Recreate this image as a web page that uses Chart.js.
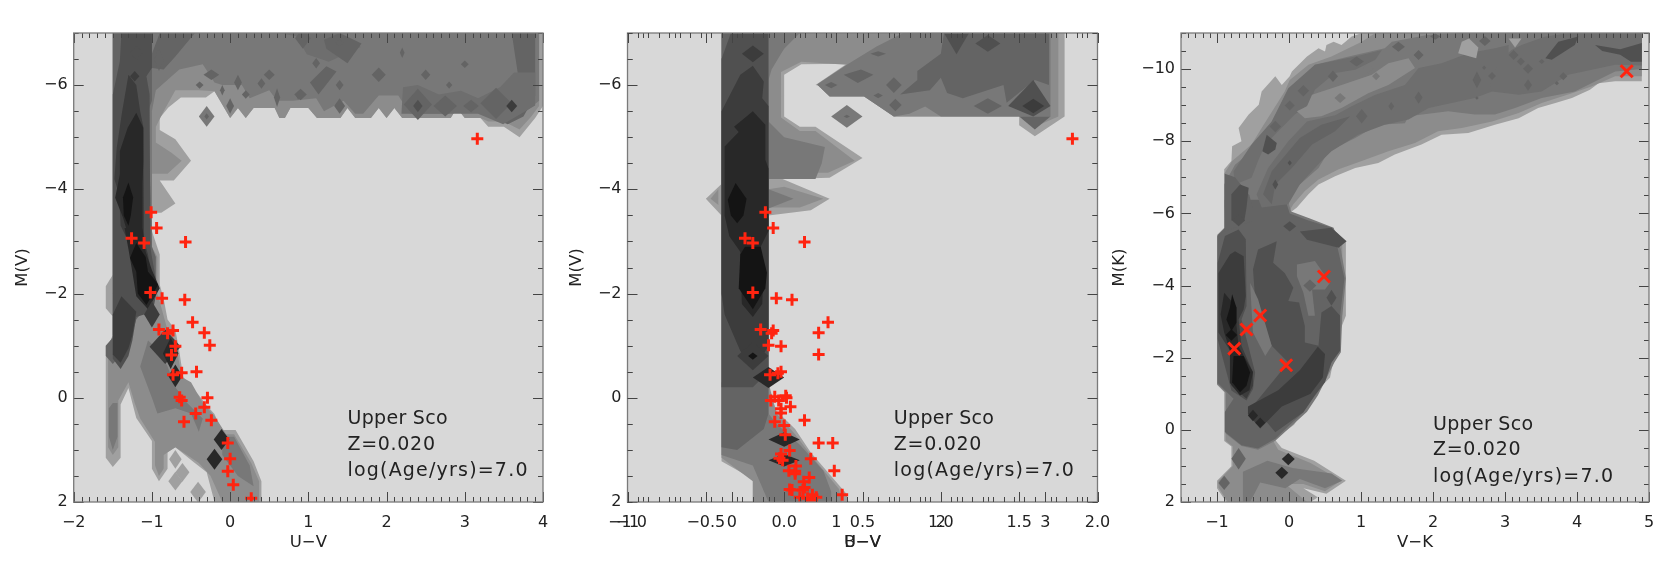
<!DOCTYPE html>
<html><head><meta charset="utf-8">
<style>html,body{margin:0;padding:0;background:#fff;overflow:hidden}
canvas{position:absolute;left:0;top:0;filter:blur(0.45px)}</style>
<script src="https://cdn.jsdelivr.net/npm/chart.js@4"></script>
</head><body>
<canvas id="c1" width="1661" height="569"></canvas>
<canvas id="c2" width="1661" height="569"></canvas>
<canvas id="c2b" width="1661" height="569"></canvas>
<canvas id="c3" width="1661" height="569"></canvas>
<script>
const levelGreys=['#d8d8d8','#b8b8b8','#a0a0a0','#8c8c8c','#787878','#646464','#505050','#3c3c3c','#282828','#141414','#6e6e6e'];
const noteLines=['Upper Sco','Z=0.020','log(Age/yrs)=7.0'];
const uvTicks=[-2,-1,0,1,2,3,4], uvLabels=['−2','−1','0','1','2','3','4'];
const bvTicks=[-1,-0.5,0,0.5,1,1.5,2], bvLabels=['−1.0','−0.5','0.0','0.5','1.0','1.5','2.0'];
const uv2Ticks=[-1,0,1,2,3], uv2Labels=['−1','0','1','2','3'];
const vkTicks=[-1,0,1,2,3,4,5], vkLabels=['−1','0','1','2','3','4','5'];
const mvTicks=[-6,-4,-2,0,2], mvLabels=['−6','−4','−2','0','2'];
const mkTicks=[-10,-8,-6,-4,-2,0,2], mkLabels=['−10','−8','−6','−4','−2','0','2'];

const uvStars=[[3.16,-4.97],[-1.01,-3.56],[-0.94,-3.26],[-1.26,-3.06],[-1.1,-2.97],[-0.57,-2.99],[-1.02,-2.02],[-0.87,-1.91],[-0.58,-1.88],[-0.48,-1.45],[-0.91,-1.31],[-0.33,-1.25],[-0.8,-1.24],[-0.73,-1.29],[-0.26,-1.01],[-0.7,-0.99],[-0.75,-0.82],[-0.43,-0.5],[-0.73,-0.44],[-0.62,-0.48],[-0.645,-0.01],[-0.62,0.05],[-0.29,0],[-0.33,0.18],[-0.44,0.3],[-0.24,0.43],[-0.59,0.46],[-0.03,0.87],[0,1.17],[-0.03,1.41],[0.04,1.67],[0.27,1.93]];
const bvStars=[[1.84,-4.97],[-0.12,-3.56],[-0.07,-3.26],[-0.25,-3.06],[-0.2,-2.97],[0.13,-2.99],[-0.2,-2.02],[-0.05,-1.91],[0.05,-1.88],[0.28,-1.45],[-0.15,-1.31],[0.22,-1.25],[-0.08,-1.24],[-0.07,-1.29],[-0.1,-1.01],[-0.02,-0.99],[0.22,-0.83],[-0.02,-0.5],[-0.09,-0.44],[-0.04,-0.47],[-0.06,-0.02],[-0.085,0.05],[0.01,-0.04],[0.015,0],[-0.035,0.05],[0.04,0.17],[-0.02,0.21],[-0.02,0.29],[-0.06,0.46],[0.13,0.43],[0,0.53],[0.007,0.71],[0.22,0.87],[0.31,0.87],[0.035,1.01],[-0.02,1.08],[-0.03,1.16],[-0.01,1.2],[0.17,1.17],[0.075,1.31],[0.03,1.4],[0.07,1.41],[0.07,1.46],[0.32,1.4],[0.16,1.53],[0.125,1.61],[0.13,1.72],[0.035,1.76],[0.05,1.77],[0.12,1.77],[0.18,1.86],[0.37,1.86],[0.1,1.91],[0.15,1.93],[0.205,1.91],[0.17,1.97]];
const vkStars=[[4.69,-9.94],[0.485,-4.25],[-0.4,-3.17],[-0.59,-2.78],[-0.76,-2.25],[-0.04,-1.79]];

const uvShapes=[
[2,[[-1.5,-7],[4,-7],[4,-5.6],[3.9,-5.37],[3.7,-5],[3.5,-5.2],[3.3,-5.2],[3.2,-5.37],[3,-5.37],[2.9,-5.56],[2.82,-5.37],[2.2,-5.37],[2.1,-5.56],[2,-5.37],[1.9,-5.56],[1.8,-5.37],[1.6,-5.37],[1.5,-5.56],[1.41,-5.37],[1.11,-5.37],[1,-5.56],[0.77,-5.56],[0.7,-5.37],[0.63,-5.37],[0.57,-5.56],[0.3,-5.56],[0.2,-5.37],[0.1,-5.56],[0,-5.37],[-0.2,-5.88],[-0.31,-5.76],[-0.63,-5.76],[-0.79,-5.57],[-0.9,-5.37],[-0.9,-5.14],[-0.7,-4.96],[-0.5,-4.55],[-0.72,-4.17],[-0.9,-4.17],[-0.7,-3.73],[-0.88,-3.55],[-1,-3.55],[-1,-3.2],[-0.9,-2.75],[-0.9,-2.17],[-0.85,-1.9],[-0.8,-1.5],[-0.7,-1.3],[-0.65,-0.9],[-0.6,-0.4],[-0.5,-0.2],[-0.41,-0.07],[-0.3,0.15],[-0.2,0.31],[-0.11,0.62],[0.07,0.62],[0.3,1.22],[0.4,1.6],[0.4,2],[-0.2,2],[-0.3,1.43],[-0.48,1.22],[-0.7,0.95],[-0.8,1.04],[-0.8,1.36],[-0.91,1.6],[-1,1.36],[-1,0.83],[-1.2,0.39],[-1.3,-0.19],[-1.4,0.13],[-1.4,1.15],[-1.5,1.33],[-1.59,1.15],[-1.59,-1],[-1.5,-1.15],[-1.5,-1.56],[-1.59,-1.72],[-1.59,-2.14],[-1.5,-2.36]]],
[3,[[-1.5,-7],[3.95,-7],[3.95,-5.6],[3.85,-5.4],[3.7,-5.15],[3.5,-5.3],[3.3,-5.3],[3.2,-5.37],[3,-5.37],[2.9,-5.56],[2.82,-5.37],[2.2,-5.37],[2.1,-5.56],[2,-5.37],[1.9,-5.56],[1.8,-5.37],[1.6,-5.37],[1.5,-5.56],[1.41,-5.37],[1.11,-5.37],[1,-5.56],[0.77,-5.56],[0.7,-5.37],[0.63,-5.37],[0.57,-5.56],[0.3,-5.56],[0.2,-5.37],[0.1,-5.56],[0,-5.37],[-0.2,-5.88],[-0.4,-5.9],[-0.7,-5.9],[-0.85,-5.5],[-0.95,-5.2],[-0.95,-4.9],[-0.75,-4.7],[-0.62,-4.55],[-0.8,-4.3],[-1,-4.3],[-1,-2.9],[-0.93,-2.7],[-0.93,-2],[-0.8,-1.3],[-0.7,-1.1],[-0.62,-0.4],[-0.5,-0.3],[-0.35,0.1],[-0.2,0.35],[-0.05,0.7],[0.05,0.7],[0.27,1.25],[0.37,1.6],[0.37,2],[-0.1,2],[-0.25,1.5],[-0.4,1.25],[-0.55,1.1],[-0.7,0.95],[-0.85,1.1],[-0.85,1.36],[-0.91,1.5],[-0.96,1.3],[-0.96,0.85],[-1.15,0.4],[-1.22,0.1],[-1.3,-0.3],[-1.43,0.05],[-1.43,0.95],[-1.5,1.1],[-1.56,0.95],[-1.56,-1],[-1.5,-1.2]]],
[4,[[-1.5,-7],[3.95,-7],[3.95,-5.7],[3.7,-5.4],[3.3,-5.45],[3.2,-5.45],[3,-5.7],[2.8,-5.45],[2.3,-5.45],[2.15,-5.8],[1.9,-5.8],[1.7,-5.45],[1.6,-5.45],[1.45,-5.7],[1.2,-5.5],[1.1,-5.75],[0.8,-5.7],[0.6,-5.7],[0.5,-5.9],[0.25,-5.75],[0.15,-6],[-0.1,-6],[-0.2,-6.05],[-0.35,-6.4],[-0.65,-6.3],[-0.95,-5.9],[-1,-5.5],[-1,-2.9],[-0.97,-2.3],[-1,-2],[-1.5,-1.2]]],
[4,[[-0.9,-0.9],[-0.8,-0.6],[-0.7,-0.2],[-0.55,0.1],[-0.35,0.4],[-0.4,0.65],[-0.5,0.3],[-0.7,0.2],[-0.93,0.3],[-1,0],[-1.15,-0.6],[-1.05,-1.1]]],
[4,[[-1.5,0.1],[-1.44,0.1],[-1.44,0.75],[-1.5,1],[-1.55,0.75],[-1.55,0.2]]],
[4,[[-0.1,0.75],[0.05,0.75],[0.25,1.3],[0.3,1.7],[0.1,1.5],[-0.1,1.1]]],
[5,[[-1.5,-7],[-1,-7],[-1,-5.7],[-1.05,-5.5],[-1,-2.9],[-0.95,-2.7],[-0.95,-2.3],[-1.05,-2],[-1.1,-1.7],[-1.2,-1.5],[-1.3,-1],[-1.5,-0.65],[-1.59,-0.8],[-1.59,-1],[-1.5,-1.15]]],
[5,[[-0.7,-6.55],[-0.45,-7],[-0.9,-7],[-1,-6.6],[-1,-6.33],[-0.85,-6.3]]],
[5,[[3.5,-5.6],[3.7,-6],[3.65,-6.5],[3.6,-7],[3.9,-7],[3.9,-5.8],[3.75,-5.4],[3.55,-5.25],[3.3,-5.4]]],
[10,[[2.19,-5.45],[2.21,-5.96],[2.4,-6],[2.67,-5.82],[2.95,-5.89],[3.17,-5.75],[3.45,-5.96],[3.63,-6.24],[3.9,-6.24],[3.9,-5.61],[3.49,-5.25],[3.17,-5.45]]],
[10,[[0.62,-7],[1.39,-7],[1.67,-6.73],[1.26,-6.45],[0.98,-6.59],[0.85,-6.94]]],
[5,[[1.2,-6.87],[1.4,-7],[1.68,-6.8],[1.5,-6.42],[1.23,-6.7]]],
[5,[[1.02,-6.05],[1.23,-6.36],[1.36,-6.26],[1.13,-5.82]]],
[6,[[-1.39,-7],[-1,-7],[-1,-6.33],[-1.07,-6.17],[-1.03,-5.82],[-1.02,-2.9],[-1,-2.7],[-0.93,-2.1],[-0.97,-1.8],[-1.05,-1.55],[-1.1,-1.6],[-1.2,-1.55],[-1.25,-1.1],[-1.3,-0.8],[-1.4,-0.55],[-1.5,-0.75],[-1.5,-5.82],[-1.41,-6.46]]],
[7,[[-1.3,-6.2],[-1.2,-6],[-1.15,-5.5],[-1.11,-5.2],[-1.1,-3],[-1.05,-2.75],[-1,-2.3],[-1.05,-2],[-1.07,-1.75],[-1.2,-2],[-1.25,-2.7],[-1.3,-3],[-1.4,-3.3],[-1.42,-3.9],[-1.48,-4.2],[-1.45,-4.8],[-1.38,-5.5]]],
[7,[[-1.39,-1.95],[-1.2,-1.65],[-1.25,-1.2],[-1.3,-0.95],[-1.4,-0.67],[-1.5,-0.83],[-1.5,-1.6]]],
[8,[[-1.2,-5.47],[-1.11,-5.18],[-1.11,-4.54],[-1.12,-4.1],[-1.12,-3.26],[-1.33,-3.26],[-1.37,-3.46],[-1.47,-3.84],[-1.41,-4.29],[-1.41,-4.73],[-1.31,-5.18]]],
[8,[[-1.35,-3.26],[-1.12,-3.26],[-1.08,-2.8],[-1,-2.45],[-0.9,-2.1],[-1.05,-1.7],[-1.2,-1.95],[-1.26,-2.5],[-1.3,-2.85]]],
[9,[[-1.3,-4.13],[-1.24,-3.85],[-1.27,-3.5],[-1.3,-3.3],[-1.36,-3.5],[-1.37,-3.85]]],
[9,[[-1.2,-2.97],[-1.08,-2.7],[-1.05,-2.42],[-1,-2.33],[-0.92,-2.17],[-1.07,-1.78],[-1.18,-2],[-1.2,-2.42],[-1.28,-2.68]]]
];
const uvDiamonds=[[2,-0.41,1.81,0.1,0.2],[2,-0.7,1.18,0.08,0.18],[2,-0.61,1.43,0.09,0.18],[2,-0.7,1.6,0.09,0.18],[4,-0.3,-5.4,0.1,0.2],[5,-0.3,-5.4,0.03,0.06],[7,-0.83,-0.98,0.2,0.33],[8,-0.76,-0.85,0.1,0.3],[8,-0.7,-0.42,0.09,0.22],[8,-0.11,0.8,0.1,0.2],[8,-0.2,1.18,0.1,0.2],[7,-1,-1.6,0.1,0.25],[6,-1.2,-6.62,0.08,0.14],[7,-1.22,-6.17,0.06,0.1],[5,-0.91,-6.49,0.06,0.22],[5,-0.24,-6.2,0.1,0.1],[5,-0.39,-6,0.05,0.07],[5,0.1,-6.05,0.05,0.15],[5,-0.1,-5.9,0.03,0.1],[5,0,-5.6,0.05,0.15],[5,0.2,-5.82,0.05,0.08],[5,0.4,-6.03,0.05,0.1],[5,0.5,-6.2,0.07,0.1],[5,0.6,-5.76,0.04,0.18],[5,0.87,-5.8,0.03,0.08],[5,1.4,-6.81,0.05,0.07],[5,1.1,-6.42,0.05,0.1],[5,0.9,-5.82,0.08,0.11],[5,1.4,-6,0.05,0.1],[5,1.4,-5.6,0.07,0.15],[5,1.9,-6.2,0.09,0.14],[5,2.2,-6.62,0.03,0.1],[5,2.5,-6.2,0.06,0.1],[5,3,-6.4,0.05,0.07],[5,2.8,-6,0.04,0.07],[5,2.4,-5.63,0.18,0.3],[6,2.4,-5.6,0.06,0.12],[5,2.75,-5.6,0.15,0.2],[5,3.08,-5.6,0.1,0.12],[5,3.4,-5.65,0.2,0.3],[7,3.6,-5.6,0.07,0.12],[5,0.93,-6.9,0.1,0.2]];

const bvShapes=[
[2,[[-0.4,-7],[1.79,-7],[1.79,-5.4],[1.6,-5.02],[1.5,-5.23],[1.5,-5.4],[0.7,-5.4],[0.51,-5.8],[0.2,-6],[0.4,-6.41],[0.11,-6.4],[0,-6.2],[0,-5.4],[0.1,-5.2],[0.2,-5.2],[0.5,-4.6],[0.29,-4.22],[-0.01,-4.2],[0.29,-3.82],[0.17,-3.6],[-0.1,-3.5],[-0.1,-0.6],[-0.1,-0.2],[-0.05,0.25],[0.07,0.6],[0.17,1.05],[0.4,1.85],[0.41,2],[-0.2,2],[-0.2,1.56],[-0.4,1.22],[-0.4,-3.5],[-0.5,-3.82],[-0.4,-4.1]]],
[3,[[-0.1,-7],[1.75,-7],[1.75,-5.4],[1.6,-5.2],[1.52,-5.4],[0.7,-5.4],[0.51,-5.78],[0.29,-5.78],[0.21,-6.01],[0.4,-6.39],[0.11,-6.45],[-0.02,-6.25],[-0.02,-5.38],[0.1,-5.12],[0.2,-5.12],[0.45,-4.55],[0.28,-4.32],[-0.02,-4.32],[-0.1,-4.3]]],
[3,[[-0.1,-4],[0,-4.05],[0.25,-3.82],[0.1,-3.65],[-0.1,-3.65]]],
[3,[[-0.42,-4],[-0.47,-3.82],[-0.42,-3.7]]],
[3,[[-0.4,-7],[-0.1,-7],[-0.1,-0.3],[-0.05,0.3],[0.07,0.7],[0.17,1.1],[0.35,1.75],[0.37,2],[-0.2,2],[-0.2,1.6],[-0.4,1.15]]],
[4,[[0.21,-6.01],[0.4,-6.39],[0.59,-6.74],[0.76,-7],[1.7,-7],[1.7,-5.4],[1,-5.4],[0.9,-5.59],[0.8,-5.45],[0.7,-5.4],[0.51,-5.78],[0.29,-5.78]]],
[4,[[-0.1,-7],[0.1,-7],[0,-6.7],[-0.02,-6.6],[-0.08,-6.3],[-0.1,-6.1]]],
[4,[[-0.1,-5.3],[0,-5],[0.26,-4.81],[0.24,-4.5],[0.2,-4.2],[-0.1,-4.2]]],
[4,[[-0.1,-4],[0.06,-3.82],[-0.1,-3.63]]],
[4,[[-0.4,-0.3],[-0.1,-0.3],[-0.1,0.3],[-0.05,0.5],[0.1,0.9],[0.25,1.4],[0.3,1.8],[0.3,2],[-0.1,2],[-0.2,1.3],[-0.4,1.1]]],
[5,[[-0.4,-7],[-0.1,-7],[-0.1,-0.5],[-0.1,-0.2],[-0.1,0.3],[-0.13,0.6],[-0.3,1],[-0.4,0.95]]],
[5,[[0.74,-5.82],[0.85,-6.1],[0.85,-6.27],[1,-6.6],[1.02,-7],[1.69,-7],[1.69,-6],[1.6,-6.1],[1.42,-5.66],[1.4,-6],[1.14,-5.75],[1.04,-5.85],[1,-6.14],[0.93,-5.9]]],
[5,[[0.38,-6.2],[0.49,-6.3],[0.57,-6.2],[0.47,-6.04]]],
[5,[[1.5,-5.4],[1.6,-5.15],[1.7,-5.4]]],
[6,[[-0.34,-7],[-0.1,-7],[-0.1,-0.5],[-0.2,-0.2],[-0.4,-0.2],[-0.4,-6.5]]],
[6,[[1.02,-7],[1.18,-7],[1.1,-6.59]]],
[6,[[1.43,-5.6],[1.59,-6.1],[1.7,-5.6],[1.59,-5.4]]],
[7,[[-0.4,-5.5],[-0.28,-6.2],[-0.2,-6.37],[-0.13,-6.07],[-0.14,-5.75],[-0.1,-5.6],[-0.1,-1],[-0.15,-0.75],[-0.2,-0.65],[-0.28,-0.9],[-0.38,-1.6],[-0.4,-2]]],
[8,[[-0.38,-4.82],[-0.29,-5.1],[-0.32,-5.2],[-0.2,-5.5],[-0.12,-5.24],[-0.12,-4.57],[-0.1,-4.4],[-0.1,-3.2],[-0.15,-2.9],[-0.13,-2.5],[-0.14,-1.8],[-0.2,-1.55],[-0.27,-1.8],[-0.28,-2.8],[-0.35,-3.1],[-0.38,-3.5]]],
[9,[[-0.31,-4.12],[-0.24,-3.82],[-0.26,-3.5],[-0.3,-3.35],[-0.34,-3.5],[-0.36,-3.8]]],
[9,[[-0.28,-2.75],[-0.25,-2.9],[-0.15,-2.9],[-0.11,-2.4],[-0.12,-2.1],[-0.2,-1.7],[-0.29,-2.1]]]
];
const bvDiamonds=[[7,-0.2,-0.8,0.1,0.27],[9,-0.2,-0.8,0.03,0.07],[8,-0.1,-0.39,0.1,0.2],[8,0,0.8,0.1,0.14],[8,0,1.2,0.1,0.12],[7,-0.2,-6.6,0.07,0.16],[5,0.7,-6,0.05,0.15],[5,0.3,-6,0.04,0.06],[5,0.6,-6.6,0.05,0.05],[5,0.71,-5.62,0.04,0.12],[5,0.6,-5.8,0.03,0.05],[4,0.4,-5.4,0.1,0.22],[5,0.4,-5.4,0.02,0.03],[6,1.3,-6.8,0.08,0.16],[5,1.3,-5.6,0.09,0.15],[7,1.59,-5.6,0.07,0.14]];

const vkShapes=[
[2,[[-0.9,-6.16],[-0.9,-7.22],[-0.8,-7.45],[-0.79,-7.86],[-0.66,-8],[-0.7,-8.37],[-0.56,-8.74],[-0.42,-9.01],[-0.38,-9.38],[-0.19,-9.8],[-0.1,-9.56],[0.01,-9.8],[0.04,-9.93],[0.25,-10.35],[0.41,-10.58],[0.5,-10.49],[0.52,-10.67],[0.62,-10.76],[0.73,-10.67],[0.87,-10.9],[1.01,-11],[4.9,-11],[4.9,-9.66],[4.53,-9.66],[4.3,-9.61],[4.18,-9.43],[3.93,-9.2],[3.7,-9.06],[3.46,-8.92],[3.19,-8.64],[2.86,-8.46],[2.49,-8.23],[2.12,-8.18],[1.84,-7.91],[1.47,-7.63],[1.24,-7.4],[0.92,-7.26],[0.64,-7.03],[0.41,-6.8],[0.27,-6.53],[0.11,-6.16],[0,-6],[0.35,-5.63],[0.6,-5.6],[0.79,-5.2],[0.79,-3.16],[0.69,-2.66],[0.57,-1.45],[0.35,-1],[0.07,-0.14],[-0.2,0.26],[-0.1,0.5],[0.35,0.86],[0.79,1.41],[0.52,1.77],[0.2,1.62],[0.4,1.87],[0.3,2],[-0.87,2],[-1,1.62],[-1,1.41],[-0.8,1.01],[-0.8,0.46],[-0.9,0.31],[-0.9,-1.05],[-1,-1.25],[-1,-5.4],[-0.9,-5.6]]],
[3,[[-0.9,-6.16],[-0.9,-7.1],[-0.79,-7.45],[-0.52,-7.91],[-0.38,-8.37],[-0.06,-9.38],[0.01,-9.7],[0.27,-10.12],[0.59,-10.35],[1.01,-10.76],[1.2,-11],[4.9,-11],[4.9,-9.8],[4.53,-9.8],[4.2,-9.52],[3.93,-9.33],[3.51,-9.06],[3.19,-8.78],[2.82,-8.55],[2.4,-8.37],[2.07,-8.28],[1.75,-7.95],[1.38,-7.72],[1.01,-7.45],[0.69,-7.22],[0.41,-6.94],[0.22,-6.62],[0.06,-6.25],[-0.03,-5.95],[0.3,-5.6],[0.57,-5.55],[0.74,-5.2],[0.74,-3.2],[0.64,-2.7],[0.52,-1.5],[0.3,-1.05],[0.02,-0.2],[-0.25,0.2],[-0.15,0.55],[0.3,0.92],[0.72,1.41],[0.5,1.7],[0.2,1.5],[-0.05,1.5],[0.25,2],[-0.85,2],[-0.98,1.6],[-0.98,1.41],[-0.78,1],[-0.78,0.46],[-0.88,0.3],[-0.88,-1.05],[-0.98,-1.25],[-0.98,-5.4],[-0.88,-5.55]]],
[4,[[-0.9,-6.16],[-0.9,-6.8],[-0.75,-7.35],[-0.52,-7.72],[-0.33,-8.18],[-0.19,-8.74],[0.04,-9.47],[0.36,-10.12],[0.92,-10.39],[1.33,-10.58],[1.43,-10.76],[1.94,-10.95],[2.4,-11],[4.9,-11],[4.9,-10],[4.53,-9.93],[3.97,-9.38],[3.51,-9.2],[3.14,-8.92],[2.86,-8.74],[2.58,-8.74],[2.21,-8.83],[1.66,-8.69],[1.61,-8.5],[1.24,-8.46],[0.92,-8.09],[0.55,-7.72],[0.41,-7.26],[0.15,-6.8],[-0.19,-6.16]]],
[4,[[-0.9,-6.38],[-0.9,-5.55],[-1,-5.36],[-1,-1.27],[-0.88,-1.03],[-0.88,0.1],[-0.66,0.45],[-0.43,0.55],[-0.19,0.3],[0.03,-0.1],[0.25,-0.5],[0.4,-0.95],[0.63,-1.87],[0.72,-2.15],[0.74,-3.16],[0.79,-4.2],[0.72,-5],[0.62,-5.6],[0.3,-5.85],[0.03,-6.05],[-0.02,-6.38]]],
[4,[[-0.64,1.16],[-0.3,0.86],[0.05,1.06],[0.59,1.21],[0.74,1.41],[0.5,1.62],[0.15,1.36],[-0.05,1.62],[-0.4,1.46],[-0.54,2],[-0.64,2]]],
[5,[[-0.99,-5.4],[-0.89,-5.6],[-0.89,-6.38],[-0.05,-6.38],[0.01,-6],[0.27,-5.8],[0.6,-5.6],[0.68,-5],[0.77,-4.2],[0.71,-3.16],[0.68,-2.15],[0.59,-1.87],[0.34,-0.95],[0.2,-0.49],[-0.01,-0.1],[-0.19,0.25],[-0.43,0.52],[-0.66,0.43],[-0.89,0.06],[-0.89,-0.5],[-0.77,-0.86],[-0.99,-1.3]]],
[10,[[-0.45,-6.53],[-0.29,-7.26],[-0.01,-8],[0.25,-8.55],[0.64,-8.72],[0.87,-8.97],[1.2,-9.29],[1.61,-9.56],[1.8,-10.03],[2.12,-10.16],[2.49,-10.44],[2.86,-10.58],[3.05,-10.67],[3.05,-10.12],[2.82,-9.38],[2.58,-9.2],[2.26,-9.06],[1.94,-8.92],[1.66,-8.6],[1.33,-8.46],[0.96,-8.18],[0.59,-7.72],[0.45,-7.45],[0.15,-6.8],[-0.01,-6.25],[-0.38,-6.16]]],
[10,[[2.79,-9.56],[2.91,-10.21],[3.09,-10.53],[3.23,-10.67],[3.56,-10.9],[3.9,-11],[4.9,-11],[4.9,-10.1],[4.53,-10.12],[3.88,-9.84],[3.51,-9.38],[3.19,-9.29],[2.82,-9.38]]],
[10,[[-0.77,-7.17],[-0.52,-7.91],[-0.24,-8.55],[-0.01,-9.47],[0.36,-10.12],[0.92,-10.35],[1.29,-10.53],[1.2,-10.26],[0.92,-9.98],[0.64,-9.89],[0.36,-9.43],[0.27,-9.01],[0.08,-8.74],[-0.15,-8.28],[-0.33,-7.91],[-0.43,-7.45],[-0.52,-6.99],[-0.75,-6.8]]],
[5,[[-0.89,-7.1],[-0.75,-7],[-0.55,-6.5],[-0.5,-6.1],[-0.5,-5.8],[-0.89,-5.5]]],
[3,[[0.32,-9.29],[0.73,-9.56],[1.15,-9.84],[1.38,-10.16],[1.66,-10.3],[1.75,-10.03],[1.38,-9.56],[1.1,-9.33],[0.73,-8.92],[0.45,-8.69],[0.22,-8.64],[0.11,-8.83],[0.25,-8.97]]],
[2,[[2.35,-10.44],[2.4,-10.76],[2.5,-10.85],[2.63,-10.6],[2.6,-10.3]]],
[2,[[3.05,-10.85],[3.23,-10.85],[3.14,-10.6]]],
[5,[[-0.24,-7.17],[0.15,-8.09],[0.45,-8.46],[0.85,-8.69],[0.64,-8.28],[0.32,-7.91],[0.04,-7.26],[-0.19,-6.8],[-0.24,-6.25],[-0.36,-6.53]]],
[6,[[-0.8,-6.16],[-0.8,-6.53],[-0.68,-6.8],[-0.56,-6.71],[-0.59,-6.16],[-0.62,-5.8],[-0.8,-5.8]]],
[6,[[3.56,-10.3],[3.74,-10.76],[4.02,-10.9],[3.97,-10.67],[3.65,-10.26]]],
[6,[[4.25,-10.67],[4.6,-10.55],[4.9,-10.72],[4.9,-10.2],[4.75,-10.2],[4.6,-10.4],[4.35,-10.5]]],
[6,[[-0.37,-7.72],[-0.31,-8.18],[-0.17,-7.95],[-0.19,-7.77],[-0.29,-7.63]]],
[6,[[0.15,-5.5],[0.59,-5.6],[0.8,-5.23],[0.69,-5.05],[0.25,-5.27]]],
[6,[[-0.5,-4.45],[-0.43,-5],[-0.17,-5.23],[-0.22,-4.63],[-0.06,-4.35],[0.06,-3.94],[-0.01,-3.57],[0.14,-3.53],[0.22,-2.88],[0.22,-2.42],[0.41,-2.33],[0.45,-3.25],[0.59,-3.43],[0.71,-3.16],[0.71,-2.19],[0.59,-1.87],[0.5,-1.32],[0.36,-0.95],[0.2,-0.49],[-0.19,0.07],[-0.5,-0.67],[-0.01,-1.87],[-0.24,-2.33],[-0.47,-3.62]]],
[6,[[-0.99,-4.63],[-0.89,-5.37],[-0.7,-5.55],[-0.6,-5.28],[-0.59,-3.43],[-0.66,-3.06],[-0.47,-1.59],[-0.5,-1.13],[-0.59,-0.81],[-0.8,-1.09],[-0.99,-2.51]]],
[4,[[0.11,-4.58],[0.36,-4.68],[0.57,-4.08],[0.5,-3.89],[0.32,-3.89],[0.36,-3.16],[0.27,-3.16],[0.2,-3.8],[0.11,-4.26]]],
[4,[[-0.54,-4.08],[-0.43,-3.62],[-0.24,-2.33],[-0.33,-2.05],[-0.5,-2.7],[-0.52,-3.34]]],
[7,[[-0.98,-4.35],[-0.82,-4.86],[-0.75,-4.95],[-0.63,-4.81],[-0.6,-3.71],[-0.63,-3.34],[-0.7,-3.06],[-0.66,-2.33],[-0.5,-1.59],[-0.5,-1.22],[-0.59,-0.86],[-0.8,-1.22],[-0.8,-2.14],[-0.98,-2.7]]],
[7,[[-0.57,-0.65],[-0.15,-1.1],[0.15,-1.65],[0.4,-2.3],[0.5,-2.1],[0.47,-1.45],[0.3,-1],[-0.1,-0.65],[-0.4,-0.04],[-0.57,-0.44]]],
[8,[[-0.9,-3.8],[-0.73,-3.4],[-0.73,-2.9],[-0.7,-2.3],[-0.5,-1.6],[-0.55,-1.1],[-0.68,-0.95],[-0.82,-1.3],[-0.82,-2.2],[-0.9,-2.7],[-0.95,-3.2]]],
[9,[[-0.79,-3.76],[-0.73,-3.39],[-0.73,-2.97],[-0.8,-2.74],[-0.87,-3.06],[-0.82,-3.39]]],
[9,[[-0.77,-2.05],[-0.63,-2.05],[-0.54,-1.59],[-0.59,-1.22],[-0.68,-1.04],[-0.79,-1.32]]]
];
const vkDiamonds=[[5,1.52,-10.62,0.09,0.14],[5,0.94,-10.21,0.1,0.14],[5,0.61,-9.8,0.07,0.16],[5,0.2,-9.4,0.08,0.16],[5,0.01,-8.99,0.07,0.14],[5,-0.19,-8.41,0.08,0.16],[5,1.8,-10.39,0.07,0.14],[4,1.1,-10.02,0.07,0.14],[4,1.21,-9.8,0.055,0.11],[4,0.71,-9.2,0.08,0.14],[5,1.01,-8.69,0.08,0.2],[5,1.8,-9.21,0.055,0.17],[5,1.42,-8.97,0.04,0.12],[5,2.61,-9.7,0.06,0.23],[5,2.82,-9.81,0.055,0.11],[5,2.71,-10.04,0.03,0.06],[5,3.32,-10.01,0.07,0.14],[5,3.32,-9.56,0.055,0.16],[5,3.51,-10.21,0.04,0.07],[5,3.72,-9.61,0.03,0.06],[5,3.81,-9.8,0.055,0.11],[5,3.12,-10.39,0.07,0.14],[5,3.22,-10.21,0.055,0.11],[6,-0.19,-6.8,0.04,0.14],[6,0.01,-7.4,0.03,0.07],[5,2.61,-9.2,0.025,0.05],[5,2.03,-10.9,0.07,0.09],[5,2.72,-10.78,0.08,0.14],[8,-0.01,0.81,0.09,0.17],[8,-0.1,1.19,0.09,0.17],[8,-0.5,-0.4,0.07,0.16],[8,-0.4,-0.2,0.07,0.14],[5,-0.7,0.8,0.1,0.3],[5,-0.9,1.47,0.08,0.2],[6,0.01,-5.64,0.09,0.14],[6,-0.7,-5.8,0.09,0.16],[6,0.59,-3.66,0.07,0.22],[5,0.29,-4,0.09,0.17],[9,-0.8,-2.63,0.08,0.16]];

const FONT='"DejaVu Sans"';
const plotTop=33, plotBottom=502, boxBottom=552.9, noteSpacing=['0.3px','0.7px','1.2px'];

const frame={id:'frame',
  beforeDatasetsDraw(ch){const o=ch.options.plugins.frame,a=ch.chartArea,c=ch.ctx;
    if(o.bg){c.save();c.fillStyle=levelGreys[0];c.fillRect(a.left,a.top,a.width,a.height);c.restore();}},
  afterDatasetsDraw(ch){const o=ch.options.plugins.frame,a=ch.chartArea,c=ch.ctx,X=ch.scales.x,Y=ch.scales.y;
    c.save();c.strokeStyle='#444';c.lineWidth=1;
    const tick=(v,len,hor)=>{c.beginPath();
      if(hor){const p=Math.round(X.getPixelForValue(v))+.5;c.moveTo(p,a.top);c.lineTo(p,a.top+len);c.moveTo(p,a.bottom);c.lineTo(p,a.bottom-len);}
      else{const p=Math.round(Y.getPixelForValue(v))+.5;c.moveTo(a.left,p);c.lineTo(a.left+len,p);c.moveTo(a.right,p);c.lineTo(a.right-len,p);}
      c.stroke();};
    for(const v of o.xMinor)tick(v,5,true);
    for(const v of o.xMajor)tick(v,10,true);
    for(const v of o.yMinor)tick(v,5,false);
    for(const v of o.yMajor)tick(v,10,false);
    if(o.bg){c.strokeStyle='#7a7a7a';c.lineWidth=1.3;c.strokeRect(a.left,a.top,a.width,a.height);
      c.fillStyle='#222';c.font='19px '+FONT;c.textBaseline='alphabetic';
      o.noteYs.forEach((y,i)=>{if('letterSpacing' in c)c.letterSpacing=noteSpacing[i];c.fillText(noteLines[i],X.getPixelForValue(o.noteX),Y.getPixelForValue(y));});}
    c.restore();}
};
Chart.register(frame);

function seq(a,b,s){const r=[];for(let i=Math.round(a/s);i*s<=b+1e-9;i++)r.push(+(i*s).toFixed(3));return r;}
function diamondPts(d){const [,x,y,rx,ry]=d;return [[x-rx,y],[x,y-ry],[x+rx,y],[x,y+ry]];}
function polyDs(level,pts){const data=pts.concat([pts[0]]).map(p=>({x:p[0],y:p[1]}));
  return {data,showLine:true,fill:'shape',borderWidth:0,borderColor:'transparent',backgroundColor:levelGreys[level],pointRadius:0,tension:0};}

function panel(id,o){
  const painted=o.shapes.map(s=>polyDs(s[0],s[1])).concat(o.diamonds.map(d=>polyDs(d[0],diamondPts(d))));
  const marks=o.stars?[{data:o.stars.map(p=>({x:p[0],y:p[1]})),showLine:false,pointStyle:o.style,pointRadius:o.radius,pointBorderWidth:3,pointBorderColor:'#ff2410',pointBackgroundColor:'#ff2410'}]:[];
  const datasets=marks.concat(painted.reverse());
  const boxL=o.titleCx-9.9;
  return new Chart(document.getElementById(id),{type:'scatter',data:{datasets},
   options:{responsive:false,animation:false,events:[],
    layout:{padding:{left:boxL,right:1661-o.right,top:plotTop,bottom:569-boxBottom}},
    plugins:{legend:{display:false},tooltip:{enabled:false},
      frame:{bg:o.bg,xMajor:o.xTicks,xMinor:seq(o.xMin,o.xMax,o.xStep),yMajor:o.yTicks,yMinor:seq(o.yMin,o.yMax,0.5),noteX:o.noteX,noteYs:o.noteYs}},
    scales:{
      x:{type:'linear',min:o.xMin,max:o.xMax,grid:{display:false,drawTicks:false},border:{display:false},
        title:{display:true,text:o.xTitle,color:'#222',font:{family:FONT,size:16.5},padding:0},
        ticks:{color:'#222',font:{family:FONT,size:16},padding:11,autoSkip:false,maxRotation:0,minRotation:0,callback:(v,i)=>o.xLabels[i]},
        afterBuildTicks:s=>{s.ticks=o.xTicks.map(v=>({value:v}));},
        afterFit:s=>{s.height=boxBottom-plotBottom;s.paddingLeft=0;s.paddingRight=0;}},
      y:{type:'linear',reverse:true,min:o.yMin,max:o.yMax,grid:{display:false,drawTicks:false},border:{display:false},
        title:{display:o.bg,text:o.yTitle,color:'#222',font:{family:FONT,size:16.5},padding:0},
        ticks:{display:o.bg,color:'#222',font:{family:FONT,size:16},padding:6,autoSkip:false,callback:(v,i)=>o.yLabels[i]},
        afterBuildTicks:s=>{s.ticks=o.yTicks.map(v=>({value:v}));},
        afterFit:s=>{s.width=o.left-boxL;s.paddingTop=0;s.paddingBottom=0;}}
    }}});
}
panel('c1',{bg:true,left:73.7,right:543,titleCx:23,xMin:-2,xMax:4,xStep:0.1,xTicks:uvTicks,xLabels:uvLabels,xTitle:'U−V',yMin:-7,yMax:2,yTicks:mvTicks,yLabels:mvLabels,yTitle:'M(V)',shapes:uvShapes,diamonds:uvDiamonds,stars:uvStars,style:'cross',radius:6,noteX:1.5,noteYs:[0.5,1,1.5]});
panel('c2',{bg:true,left:627.5,right:1097.5,titleCx:577,xMin:-1,xMax:2,xStep:0.1,xTicks:bvTicks,xLabels:bvLabels,xTitle:'B−V',yMin:-7,yMax:2,yTicks:mvTicks,yLabels:mvLabels,yTitle:'M(V)',shapes:bvShapes,diamonds:bvDiamonds,stars:bvStars,style:'cross',radius:6,noteX:0.7,noteYs:[0.5,1,1.5]});
panel('c2b',{bg:false,left:627.5,right:1097.5,titleCx:577,xMin:-1,xMax:3.5,xStep:0.1,xTicks:uv2Ticks,xLabels:uv2Labels,xTitle:'U−V',yMin:-7,yMax:2,yTicks:[],yLabels:[],yTitle:'',shapes:[],diamonds:[],stars:null});
panel('c3',{bg:true,left:1181,right:1649,titleCx:1120,xMin:-1.5,xMax:5,xStep:0.1,xTicks:vkTicks,xLabels:vkLabels,xTitle:'V−K',yMin:-11,yMax:2,yTicks:mkTicks,yLabels:mkLabels,yTitle:'M(K)',shapes:vkShapes,diamonds:vkDiamonds,stars:vkStars,style:'crossRot',radius:8.5,noteX:2,noteYs:[0,0.7,1.45]});
</script>
</body></html>
